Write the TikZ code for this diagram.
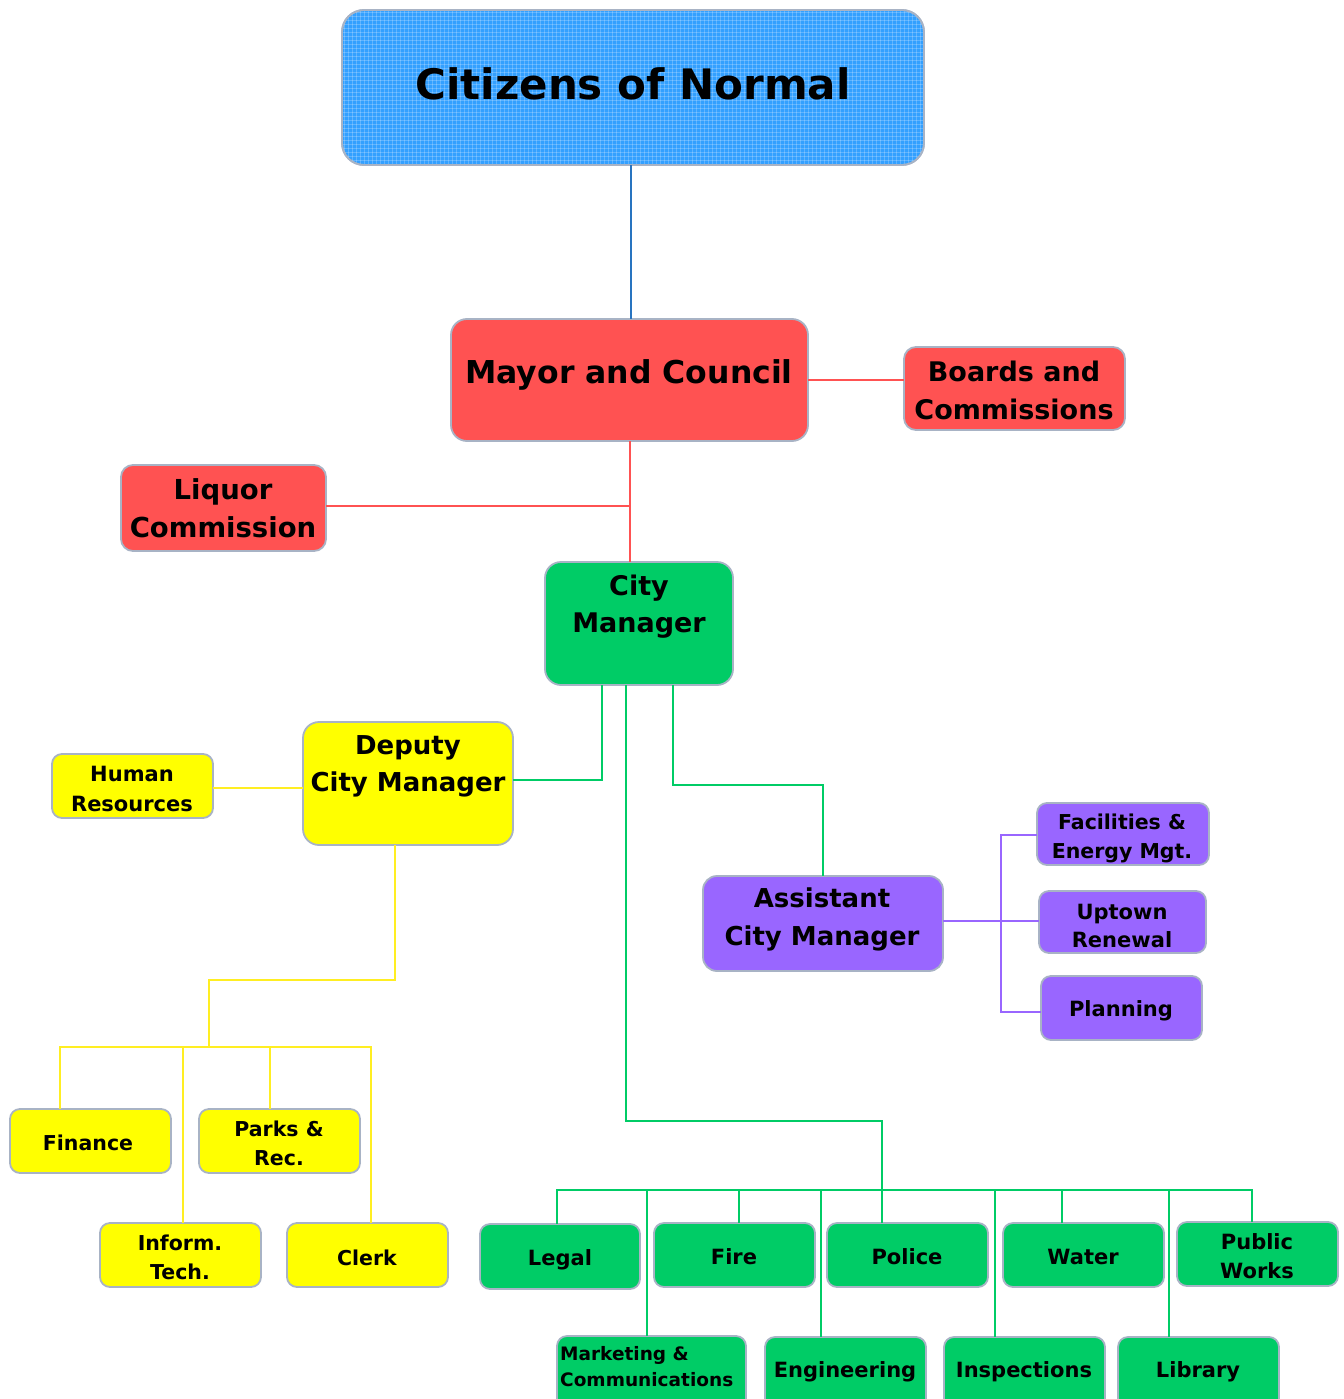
\documentclass[tikz,border=0pt]{standalone}
\usepackage{fontspec}
\setmainfont{DejaVu Sans}
\definecolor{citblue}{HTML}{33A0FF}
\definecolor{linkblue}{HTML}{2874C0}
\definecolor{cred}{HTML}{FF5252}
\definecolor{cgreen}{HTML}{00CC66}
\definecolor{cyellow}{HTML}{FFFF00}
\definecolor{lyellow}{HTML}{FFEE22}
\definecolor{cpurple}{HTML}{9966FF}
\definecolor{bordergray}{HTML}{A8B3C5}
\newcommand\fsz[2]{\fontsize{#1}{#2}\selectfont}
% name, x1, y1, x2, y2, fill colour, radius
\newcommand\mkbox[7]{%
  \node[bxs, fill=#6, rounded corners=#7, minimum width={#4-#2}, minimum height={#5-#3}] (#1) at ({(#2+#4)/2},{(#3+#5)/2}) {};}
\tikzset{
  bxs/.style={draw=bordergray, line width=1.8pt, inner sep=0pt, outer sep=0pt},
  txt/.style={align=center, font=\bfseries, inner sep=0pt, text=black, yshift=-2pt},
  lblue/.style={draw=linkblue, line width=2pt},
  lred/.style={draw=cred, line width=2pt},
  lgreen/.style={draw=cgreen, line width=2pt},
  lyel/.style={draw=lyellow, line width=2pt},
  lpur/.style={draw=cpurple, line width=2pt},
}
\begin{document}
\begin{tikzpicture}[x=1pt,y=-1pt]
\useasboundingbox (0,0) rectangle (1343,1399);
\clip (0,0) rectangle (1343,1399);
\fill[white] (0,0) rectangle (1343,1399);

% ---------- coordinates for connector bends ----------
\coordinate (gx1) at (602,0);
\coordinate (gx2) at (673,0);
\coordinate (gx3) at (626,0);
\coordinate (gx4) at (882,0);
\coordinate (ybend) at (209,980);
\coordinate (ybus) at (0,1047);
\coordinate (pb) at (1001,0);

% ---------- boxes ----------
\mkbox{cit}{342}{10}{924}{165}{citblue}{22pt}
\begin{scope}
  \clip[rounded corners=22pt] (342,10) rectangle (924,165);
  \foreach \gx in {344,348,...,924} \draw[white, opacity=.22, line width=.7pt] (\gx,10) -- (\gx,165);
  \foreach \gy in {12,16,...,165} \draw[white, opacity=.22, line width=.7pt] (342,\gy) -- (924,\gy);
\end{scope}
\draw[draw=bordergray, line width=1.8pt, rounded corners=22pt] (cit.south west) rectangle (cit.north east);

\mkbox{mayor}{451}{319}{808}{441}{cred}{16pt}
\mkbox{boards}{904}{347}{1125}{430}{cred}{12pt}
\mkbox{liq}{121}{465}{326}{551}{cred}{12pt}
\mkbox{cm}{545}{562}{733}{685}{cgreen}{16pt}
\mkbox{dep}{303}{722}{513}{845}{cyellow}{16pt}
\mkbox{hr}{52}{754}{213}{818}{cyellow}{10pt}
\mkbox{asst}{703}{876}{943}{971}{cpurple}{14pt}
\mkbox{fac}{1037}{803}{1209}{865}{cpurple}{10pt}
\mkbox{upt}{1039}{891}{1206}{953}{cpurple}{10pt}
\mkbox{plan}{1041}{976}{1202}{1040}{cpurple}{10pt}
\mkbox{fin}{10}{1109}{171}{1173}{cyellow}{10pt}
\mkbox{parks}{199}{1109}{360}{1173}{cyellow}{10pt}
\mkbox{inf}{100}{1223}{261}{1287}{cyellow}{10pt}
\mkbox{clerk}{287}{1223}{448}{1287}{cyellow}{10pt}
\mkbox{legal}{480}{1224}{640}{1289}{cgreen}{10pt}
\mkbox{fire}{654}{1223}{815}{1287}{cgreen}{10pt}
\mkbox{police}{827}{1223}{988}{1287}{cgreen}{10pt}
\mkbox{water}{1003}{1223}{1164}{1287}{cgreen}{10pt}
\mkbox{pw}{1177}{1222}{1338}{1286}{cgreen}{10pt}
\mkbox{mkt}{557}{1336}{746}{1420}{cgreen}{10pt}
\mkbox{eng}{765}{1337}{926}{1420}{cgreen}{10pt}
\mkbox{insp}{944}{1337}{1105}{1420}{cgreen}{10pt}
\mkbox{lib}{1118}{1337}{1279}{1420}{cgreen}{10pt}

% ---------- texts ----------
\node[txt, font=\bfseries\fsz{42}{50}] (citT) at (633,82) {Citizens of Normal};
\node[txt, font=\bfseries\fsz{31.5}{38}] (mayorT) at (629,373) {Mayor and Council};
\node[txt, font=\bfseries\fsz{27}{38}] (boardsT) at (1014,388) {Boards and\\Commissions};
\node[txt, font=\bfseries\fsz{27.5}{38}] (liqT) at (223,506) {Liquor\\Commission};
\node[txt, font=\bfseries\fsz{27}{37}] (cmT) at (639,605) {City\\Manager};
\node[txt, font=\bfseries\fsz{26}{37}] (depT) at (408,764) {Deputy\\City Manager};
\node[txt, font=\bfseries\fsz{21}{30}] (hrT) at (132,787) {Human\\Resources};
\node[txt, font=\bfseries\fsz{26}{38}] (asstT) at (822,917) {Assistant\\City Manager};
\node[txt, font=\bfseries\fsz{20.5}{29}] (facT) at (1122,836) {Facilities \&\\Energy Mgt.};
\node[txt, font=\bfseries\fsz{21}{28}] (uptT) at (1122,924) {Uptown\\Renewal};
\node[txt, font=\bfseries\fsz{21}{28}] (planT) at (1121,1009) {Planning};
\node[txt, font=\bfseries\fsz{20.5}{29}] (finT) at (88,1141) {Finance};
\node[txt, font=\bfseries\fsz{20.5}{29}] (parksT) at (279,1141) {Parks \&\\Rec.};
\node[txt, font=\bfseries\fsz{20.5}{29}] (infT) at (180,1255) {Inform.\\Tech.};
\node[txt, font=\bfseries\fsz{20.5}{29}] (clerkT) at (367,1256) {Clerk};
\node[txt, font=\bfseries\fsz{21}{29}] (legalT) at (560,1258) {Legal};
\node[txt, font=\bfseries\fsz{21}{29}] (fireT) at (734,1255) {Fire};
\node[txt, font=\bfseries\fsz{21}{29}] (policeT) at (907,1255) {Police};
\node[txt, font=\bfseries\fsz{21}{29}] (waterT) at (1083,1255) {Water};
\node[txt, font=\bfseries\fsz{21}{29}] (pwT) at (1257,1254) {Public\\Works};
\node[txt, align=left, anchor=west, font=\bfseries\fsz{18.5}{26}] (mktT) at (560,1365) {Marketing \&\\Communications};
\node[txt, font=\bfseries\fsz{21}{29}] (engT) at (845,1370) {Engineering};
\node[txt, font=\bfseries\fsz{21}{29}] (inspT) at (1024,1370) {Inspections};
\node[txt, font=\bfseries\fsz{21}{29}] (libT) at (1198,1370) {Library};

% ---------- connectors ----------
\draw[lblue] ([xshift=1.5pt]mayor.north |- cit.south) -- ([xshift=1.5pt]mayor.north);
\draw[lred] (mayor.east) -- (mayor.east -| boards.west);
\draw[lred] (mayor.south) -- (mayor.south |- cm.north);
\draw[lred] ([yshift=2pt]liq.east) -- ([yshift=2pt]liq.east -| mayor.south);

\draw[lgreen] (cm.south -| gx1) |- ([yshift=3.5pt]dep.east);
\draw[lgreen] (cm.south -| gx2) -- ++(0,100) -| (asst.north);
\draw[lgreen] (cm.south -| gx3) -- ++(0,436) -| (police.north -| gx4);
\draw[lgreen] ([xshift=-3pt]legal.north) -- ++(0,-34) -| ([xshift=-5.5pt]pw.north);
\draw[lgreen] ([xshift=4.5pt]fire.north) -- ++(0,-33);
\draw[lgreen] ([xshift=-21.5pt]water.north) -- ++(0,-33);
\draw[lgreen] ([xshift=-4.5pt]mkt.north) -- ++(0,-146);
\draw[lgreen] ([xshift=-24.5pt]eng.north) -- ++(0,-147);
\draw[lgreen] ([xshift=-29.5pt]insp.north) -- ++(0,-147);
\draw[lgreen] ([xshift=-29.5pt]lib.north) -- ++(0,-147);

\draw[lyel] ([yshift=-2pt]hr.east) -- ([yshift=-2pt]hr.east -| dep.west);
\draw[lyel] ([xshift=-13pt]dep.south) |- (ybend) -- (ybend |- ybus);
\draw[lyel] ([xshift=-30.5pt]fin.north) -- ++(0,-62) -| ([xshift=3.5pt]clerk.north);
\draw[lyel] ([xshift=2.5pt]inf.north) -- ++(0,-176);
\draw[lyel] ([xshift=-9.5pt]parks.north) -- ++(0,-62);

\draw[lpur] ([yshift=2.5pt]asst.east) -- ([yshift=2.5pt]asst.east -| upt.west);
\draw[lpur] ([yshift=-1pt]fac.west) -- ([yshift=-1pt]fac.west -| pb) -- ([yshift=-4pt]pb |- plan.west) -- ([yshift=-4pt]plan.west);
\end{tikzpicture}
\end{document}
